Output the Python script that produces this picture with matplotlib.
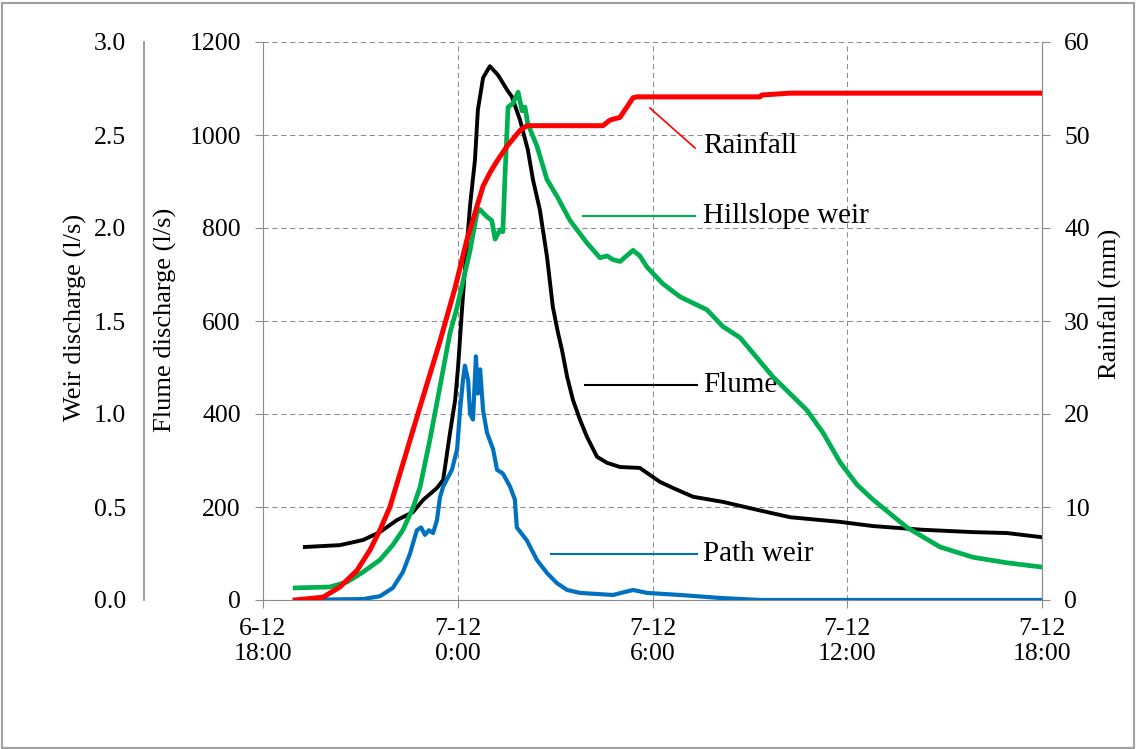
import matplotlib
matplotlib.use('Agg')
import matplotlib.pyplot as plt
from matplotlib.patches import Rectangle

plt.rcParams['font.family'] = ['Liberation Serif', 'DejaVu Serif']

# hours after 6-12 18:00
flume_t = [1.29, 2.37, 3.08, 3.60, 4.13, 4.62, 4.93, 5.36, 5.55, 5.76, 5.92, 6.01, 6.13, 6.22,
           6.38, 6.53, 6.62, 6.78, 6.99, 7.24, 7.52, 7.67, 7.92, 8.16, 8.32, 8.53, 8.75, 8.93,
           9.09, 9.21, 9.37, 9.55, 9.77, 9.98, 10.29, 10.60, 11.00, 11.61, 12.23, 12.63, 13.25,
           14.17, 15.22, 16.24, 17.78, 18.79, 20.33, 21.87, 22.92, 24.0]
flume_q = [114, 118, 129, 146, 172, 189, 215, 241, 258, 359, 430, 501, 624, 710,
           849, 946, 1054, 1123, 1148, 1129, 1097, 1082, 1032, 968, 903, 839, 738, 630,
           574, 538, 480, 430, 387, 351, 308, 295, 286, 284, 254, 241, 222,
           211, 194, 178, 168, 159, 151, 146, 144, 135]

hill_t = [0.99, 2.06, 2.59, 3.08, 3.60, 4.00, 4.31, 4.62, 4.84, 5.14, 5.45, 5.76, 5.98, 6.38,
          6.59, 6.68, 6.90, 7.05, 7.15, 7.30, 7.39, 7.46, 7.55, 7.70, 7.86, 7.98, 8.07, 8.16,
          8.44, 8.75, 9.06, 9.46, 9.98, 10.38, 10.60, 10.78, 11.00, 11.20, 11.40, 11.61, 11.83,
          12.32, 12.85, 13.68, 14.17, 14.70, 15.71, 16.76, 17.25, 17.78, 18.30, 18.79, 19.84,
          20.86, 21.87, 22.92, 24.0]
hill_q = [0.065, 0.07, 0.097, 0.15, 0.215, 0.296, 0.376, 0.495, 0.608, 0.86, 1.145, 1.435, 1.575, 1.88,
          2.08, 2.10, 2.06, 2.04, 1.94, 1.99, 1.98, 2.30, 2.65, 2.67, 2.73, 2.63, 2.65, 2.56,
          2.44, 2.26, 2.17, 2.04, 1.92, 1.84, 1.85, 1.83, 1.82, 1.85, 1.88, 1.85, 1.79,
          1.70, 1.63, 1.56, 1.47, 1.41, 1.20, 1.02, 0.90, 0.74, 0.62, 0.54, 0.39,
          0.285, 0.23, 0.20, 0.177]

path_t = [0.99, 3.08, 3.60, 4.00, 4.31, 4.53, 4.74, 4.87, 4.99, 5.11, 5.24, 5.36, 5.45, 5.55,
          5.82, 5.98, 6.07, 6.16, 6.22, 6.32, 6.38, 6.47, 6.56, 6.62, 6.69, 6.78, 6.90, 7.09,
          7.21, 7.39, 7.61, 7.76, 7.82, 8.13, 8.44, 8.75, 9.06, 9.37, 9.77, 10.78, 11.40,
          11.83, 12.85, 14.08, 15.31, 24.0]
path_q = [0.0, 0.005, 0.02, 0.065, 0.15, 0.25, 0.375, 0.39, 0.35, 0.375, 0.36, 0.43, 0.55, 0.61,
          0.70, 0.81, 1.02, 1.18, 1.26, 1.18, 1.00, 0.97, 1.31, 1.11, 1.24, 1.02, 0.90, 0.81,
          0.70, 0.68, 0.61, 0.54, 0.39, 0.32, 0.215, 0.145, 0.09, 0.054, 0.038, 0.027, 0.054,
          0.038, 0.027, 0.011, 0.0, 0.0]

rain_t = [0.99, 1.85, 2.37, 2.90, 3.30, 3.60, 3.91, 4.16, 4.84, 5.45, 5.92, 6.28, 6.59, 6.78,
          7.00, 7.21, 7.52, 7.92, 8.13, 10.47, 10.69, 11.00, 11.40, 11.52, 15.31, 15.37, 16.24, 24.0]
rain_mm = [0.0, 0.3, 1.4, 3.2, 5.4, 7.5, 10.0, 12.9, 20.8, 27.8, 33.6, 38.7, 42.3, 44.5,
           46.0, 47.2, 48.8, 50.5, 51.0, 51.0, 51.6, 51.9, 54.0, 54.1, 54.1, 54.3, 54.5, 54.5]

x_ticks = [0, 6, 12, 18, 24]
x_labels = ['6-12\n18:00', '7-12\n0:00', '7-12\n6:00', '7-12\n12:00', '7-12\n18:00']

grey = '#8c8c8c'
tick_fs = 18.5

fig = plt.figure(figsize=(11.37, 7.49), dpi=100)
fig.patches.append(Rectangle((0.002, 0.002), 0.995, 0.994, transform=fig.transFigure,
                             fill=False, edgecolor='#a0a0a0', linewidth=1.5))

ax = fig.add_axes([263 / 1137, 149 / 749, 779 / 1137, 558 / 749])
ax.set_xlim(0, 24)
ax.set_ylim(0, 1200)
ax.set_yticks(range(0, 1201, 200))
ax.set_xticks(x_ticks)
ax.set_xticklabels(x_labels)
ax.grid(True, color=grey, linestyle=(0, (5, 3.5)), linewidth=0.75)
ax.spines['top'].set_visible(False)
for s in ['left', 'bottom', 'right']:
    ax.spines[s].set_color(grey)
ax.tick_params(axis='both', colors=grey, labelcolor='black', labelsize=tick_fs,
               length=6, direction='out')
ax.tick_params(axis='y', pad=10)
ax.tick_params(axis='x', pad=7)

# weir axis (outer left)
axw = ax.twinx()
axw.set_ylim(0, 3.0)
axw.set_yticks([0, 0.5, 1.0, 1.5, 2.0, 2.5, 3.0])
axw.set_yticklabels(['0.0', '0.5', '1.0', '1.5', '2.0', '2.5', '3.0'])
axw.yaxis.set_ticks_position('left')
axw.spines['left'].set_position(('axes', -0.1528))
axw.spines['left'].set_color(grey)
axw.spines['left'].set_linewidth(1.2)
for s in ['top', 'right', 'bottom']:
    axw.spines[s].set_visible(False)
axw.tick_params(axis='y', length=0, pad=13, labelsize=tick_fs, labelcolor='black')

# rainfall axis (right)
axr = ax.twinx()
axr.set_ylim(0, 60)
axr.set_yticks(range(0, 61, 10))
for s in ['top', 'left', 'bottom']:
    axr.spines[s].set_visible(False)
axr.spines['right'].set_color(grey)
axr.tick_params(axis='y', colors=grey, labelcolor='black', labelsize=tick_fs,
                length=6, pad=10)

axw.plot(hill_t, hill_q, color='#00b050', linewidth=3.4, solid_joinstyle='round')
axw.plot(path_t, path_q, color='#0070c0', linewidth=3.0, solid_joinstyle='round')
ax.plot(flume_t, flume_q, color='black', linewidth=2.8, solid_joinstyle='round')
axr.plot(rain_t, rain_mm, color='#ff0000', linewidth=3.6, solid_joinstyle='round')

# series labels with leader lines
ann_fs = 21
ax.plot([11.92, 13.31], [1058, 972], color='#ff0000', linewidth=1.2)
ax.text(13.56, 976, 'Rainfall', fontsize=ann_fs, va='center')
ax.plot([9.86, 13.31], [826, 826], color='#00b050', linewidth=1.5)
ax.text(13.56, 826, 'Hillslope weir', fontsize=ann_fs, va='center')
ax.plot([9.92, 13.37], [462, 462], color='black', linewidth=1.5)
ax.text(13.56, 462, 'Flume', fontsize=ann_fs, va='center')
ax.plot([8.87, 13.37], [99, 99], color='#0070c0', linewidth=1.5)
ax.text(13.56, 99, 'Path weir', fontsize=ann_fs, va='center')

fig.text(75 / 1137, 432 / 749, 'Weir discharge (l/s)', rotation=90, fontsize=19,
         ha='center', va='center')
fig.text(165 / 1137, 429 / 749, 'Flume discharge (l/s)', rotation=90, fontsize=19,
         ha='center', va='center')
fig.text(1110 / 1137, 445 / 749, 'Rainfall (mm)', rotation=90, fontsize=19,
         ha='center', va='center')

fig.savefig('out.png', dpi=100, facecolor='white')
